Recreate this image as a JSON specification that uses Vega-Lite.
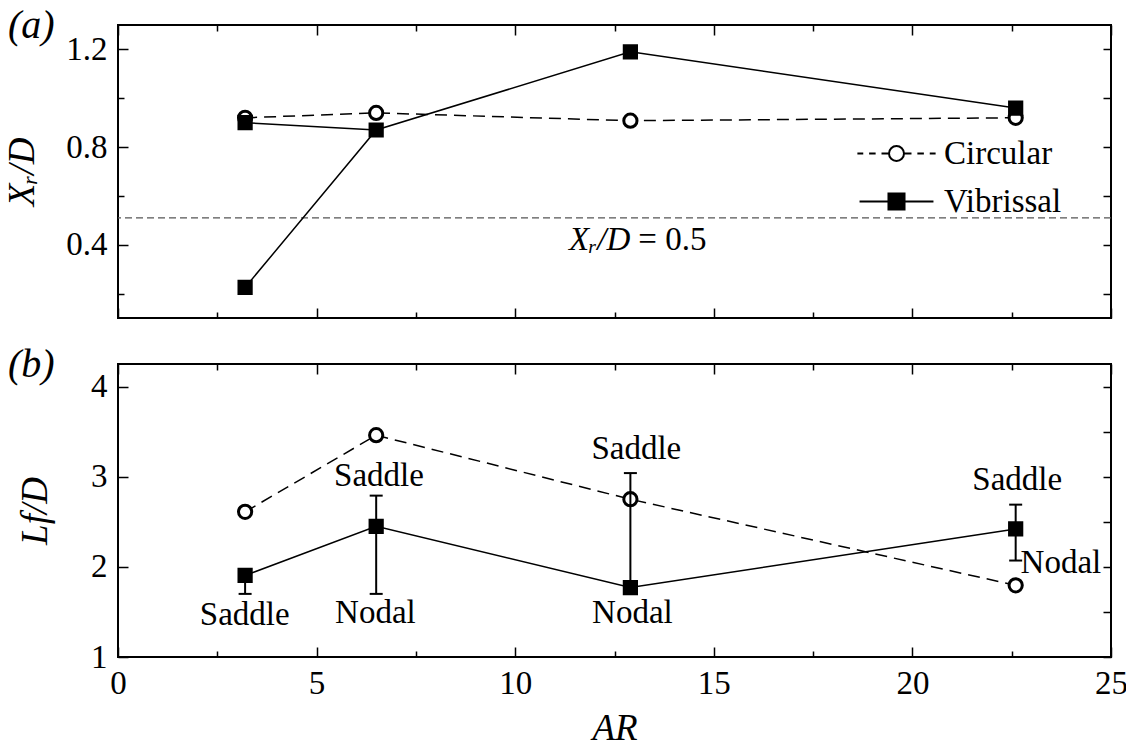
{
  "$schema": "https://vega.github.io/schema/vega-lite/v6.json",
  "description": "Recirculation length Xr/D and focus location Lf/D against aspect ratio AR, circular vs vibrissal cylinders",
  "autosize": {"type": "none"},
  "padding": {"left": 118, "top": 25, "right": 1008, "bottom": 729},
  "background": "white",
  "bounds": "flush",
  "spacing": 46,
  "datasets": {
    "xr": [
      {"series": "Circular", "AR": 3.2, "value": 0.92},
      {"series": "Circular", "AR": 6.5, "value": 0.94},
      {"series": "Circular", "AR": 12.9, "value": 0.908},
      {"series": "Circular", "AR": 22.6, "value": 0.92},
      {"series": "Vibrissal", "AR": 3.2, "value": 0.9, "branch": "upper"},
      {"series": "Vibrissal", "AR": 3.2, "value": 0.225, "branch": "lower"},
      {"series": "Vibrissal", "AR": 6.5, "value": 0.87, "branch": "both"},
      {"series": "Vibrissal", "AR": 12.9, "value": 1.19, "branch": "lower"},
      {"series": "Vibrissal", "AR": 22.6, "value": 0.96, "branch": "lower"}
    ],
    "ref": [{"value": 0.51}],
    "refnote": [{"AR": 13.0, "value": 0.379}],
    "lf": [
      {"series": "Circular", "AR": 3.2, "value": 2.61},
      {"series": "Circular", "AR": 6.5, "value": 3.46},
      {"series": "Circular", "AR": 12.9, "value": 2.75},
      {"series": "Circular", "AR": 22.6, "value": 1.795},
      {"series": "Vibrissal", "AR": 3.2, "value": 1.905, "lo": 1.7, "hi": 1.95},
      {"series": "Vibrissal", "AR": 6.5, "value": 2.45, "lo": 1.7, "hi": 2.79},
      {"series": "Vibrissal", "AR": 12.9, "value": 1.77, "lo": 1.77, "hi": 3.04},
      {"series": "Vibrissal", "AR": 22.6, "value": 2.42, "lo": 2.07, "hi": 2.69}
    ],
    "notes": [
      {"AR": 3.19, "value": 1.36, "label": "Saddle"},
      {"AR": 6.48, "value": 1.38, "label": "Nodal"},
      {"AR": 6.57, "value": 2.9, "label": "Saddle"},
      {"AR": 13.05, "value": 3.2, "label": "Saddle"},
      {"AR": 12.95, "value": 1.38, "label": "Nodal"},
      {"AR": 22.64, "value": 2.85, "label": "Saddle"},
      {"AR": 23.74, "value": 1.93, "label": "Nodal"}
    ]
  },
  "vconcat": [
    {
      "width": 993,
      "height": 293,
      "title": {"text": "(a)", "dx": -110, "dy": 22, "font": "Liberation Serif", "fontSize": 40,
                "fontStyle": "italic", "fontWeight": "normal", "color": "black",
                "anchor": "start", "frame": "group", "offset": 0},
      "resolve": {"axis": {"x": "independent", "y": "independent"}},
      "layer": [
        {
          "data": {"name": "ref"},
          "mark": {"type": "rule", "color": "#555555", "strokeWidth": 1.2, "strokeDash": [7, 4]},
          "encoding": {
            "y": {"field": "value", "type": "quantitative", "axis": null,
                  "scale": {"domain": [0.1, 1.3], "nice": false, "zero": false}}
          }
        },
        {
          "data": {"name": "refnote"},
          "mark": {"type": "text", "text": "Xᵣ/D", "align": "right", "baseline": "alphabetic", "dx": -4,
                   "font": "Liberation Serif", "fontSize": 33, "fontStyle": "italic", "color": "black"},
          "encoding": {
            "x": {"field": "AR", "type": "quantitative", "axis": null},
            "y": {"field": "value", "type": "quantitative", "axis": null}
          }
        },
        {
          "data": {"name": "refnote"},
          "mark": {"type": "text", "text": "= 0.5", "align": "left", "baseline": "alphabetic", "dx": 4,
                   "font": "Liberation Serif", "fontSize": 33, "color": "black"},
          "encoding": {
            "x": {"field": "AR", "type": "quantitative", "axis": null},
            "y": {"field": "value", "type": "quantitative", "axis": null}
          }
        },
        {
          "data": {"name": "xr"},
          "transform": [{"filter": "datum.series === 'Circular'"}],
          "mark": {"type": "line", "color": "black", "strokeWidth": 1.5, "strokeDash": [12, 7]},
          "encoding": {
            "x": {"field": "AR", "type": "quantitative",
                  "scale": {"domain": [0, 25], "nice": false},
                  "axis": {"orient": "bottom", "values": [0, 2.5, 5, 7.5, 10, 12.5, 15, 17.5, 20, 22.5, 25],
                           "labels": false, "title": null,
                           "tickSize": {"condition": {"test": "datum.value % 5 === 0", "value": -10}, "value": -6}}},
            "y": {"field": "value", "type": "quantitative",
                  "axis": {"orient": "left", "values": [0.2, 0.4, 0.6, 0.8, 1.0, 1.2], "format": ".1f",
                           "labelExpr": "round(datum.value * 10) % 4 === 0 ? datum.label : ''",
                           "tickSize": {"condition": {"test": "round(datum.value * 10) % 4 === 0", "value": -10}, "value": -6},
                           "labelPadding": 21, "title": "Xᵣ/D", "titlePadding": 24}}
          }
        },
        {
          "data": {"name": "xr"},
          "transform": [{"filter": "datum.series === 'Vibrissal' && datum.branch !== 'upper'"}],
          "mark": {"type": "line", "color": "black", "strokeWidth": 1.5},
          "encoding": {
            "x": {"field": "AR", "type": "quantitative",
                  "axis": {"orient": "top", "values": [0, 2.5, 5, 7.5, 10, 12.5, 15, 17.5, 20, 22.5, 25],
                           "labels": false, "title": null,
                           "tickSize": {"condition": {"test": "datum.value % 5 === 0", "value": -10}, "value": -6}}},
            "y": {"field": "value", "type": "quantitative",
                  "axis": {"orient": "right", "values": [0.2, 0.4, 0.6, 0.8, 1.0, 1.2],
                           "labels": false, "title": null, "tickSize": -8}}
          }
        },
        {
          "data": {"name": "xr"},
          "transform": [{"filter": "datum.series === 'Vibrissal' && datum.branch !== 'lower'"}],
          "mark": {"type": "line", "color": "black", "strokeWidth": 1.5},
          "encoding": {
            "x": {"field": "AR", "type": "quantitative", "axis": null},
            "y": {"field": "value", "type": "quantitative", "axis": null}
          }
        },
        {
          "data": {"name": "xr"},
          "transform": [{"filter": "datum.series === 'Circular'"}],
          "mark": {"type": "point", "shape": "circle", "size": 175, "fill": "white", "filled": true,
                   "stroke": "black", "strokeWidth": 3},
          "encoding": {
            "x": {"field": "AR", "type": "quantitative", "axis": null},
            "y": {"field": "value", "type": "quantitative", "axis": null},
            "opacity": {"field": "series", "type": "nominal",
                        "scale": {"domain": ["Circular", "Vibrissal"], "range": [1, 1]},
                        "legend": {
                          "orient": "none", "legendX": 762, "legendY": 112, "title": null, "padding": 0,
                          "labelFont": "Liberation Serif", "labelFontSize": 33, "labelColor": "black",
                          "labelOffset": 31, "rowPadding": 14, "symbolSize": 170,
                          "encoding": {
                            "symbols": {
                              "shape": {"value": {"expr": "datum.value === 'Circular' ? 'M-6,0L-5.1,0M-4.2,0L-3.2,0M-2.3,0L-1.15,0M1.15,0A1.15,1.15 0 1,1 -1.15,0A1.15,1.15 0 1,1 1.15,0ZM1.15,0L2.3,0M3.2,0L4.2,0M5.1,0L6,0' : 'M-5.67,0L5.67,0M-1.23,-1.23L1.23,-1.23L1.23,1.23L-1.23,1.23Z'"}},
                              "fill": {"value": {"expr": "datum.value === 'Circular' ? 'white' : 'black'"}},
                              "stroke": {"value": "black"},
                              "strokeWidth": {"value": 2},
                              "size": {"value": 170}
                            }
                          }
                        }}
          }
        },
        {
          "data": {"name": "xr"},
          "transform": [{"filter": "datum.series === 'Vibrissal'"}],
          "mark": {"type": "point", "shape": "square", "size": 175, "fill": "black", "filled": true,
                   "stroke": "black", "strokeWidth": 2},
          "encoding": {
            "x": {"field": "AR", "type": "quantitative", "axis": null},
            "y": {"field": "value", "type": "quantitative", "axis": null},
            "opacity": {"field": "series", "type": "nominal", "legend": null,
                        "scale": {"domain": ["Circular", "Vibrissal"], "range": [1, 1]}}
          }
        }
      ]
    },
    {
      "width": 993,
      "height": 293,
      "title": {"text": "(b)", "dx": -110, "dy": 22, "font": "Liberation Serif", "fontSize": 40,
                "fontStyle": "italic", "fontWeight": "normal", "color": "black",
                "anchor": "start", "frame": "group", "offset": 0},
      "resolve": {"axis": {"x": "independent", "y": "independent"}},
      "layer": [
        {
          "data": {"name": "lf"},
          "transform": [{"filter": "datum.series === 'Circular'"}],
          "mark": {"type": "line", "color": "black", "strokeWidth": 1.5, "strokeDash": [12, 7]},
          "encoding": {
            "x": {"field": "AR", "type": "quantitative",
                  "scale": {"domain": [0, 25], "nice": false},
                  "axis": {"orient": "bottom", "values": [0, 2.5, 5, 7.5, 10, 12.5, 15, 17.5, 20, 22.5, 25],
                           "format": "d", "labelExpr": "datum.value % 5 === 0 ? datum.label : ''",
                           "tickSize": {"condition": {"test": "datum.value % 5 === 0", "value": -10}, "value": -6},
                           "labelPadding": 20, "title": "AR", "titlePadding": 6}},
            "y": {"field": "value", "type": "quantitative",
                  "scale": {"domain": [1, 4.25], "nice": false, "zero": false},
                  "axis": {"orient": "left", "values": [1, 1.5, 2, 2.5, 3, 3.5, 4], "format": "d",
                           "labelExpr": "datum.value % 1 === 0 ? datum.label : ''",
                           "tickSize": {"condition": {"test": "datum.value % 1 === 0", "value": -10}, "value": -6},
                           "labelPadding": 21, "title": "Lf/D", "titlePadding": 36}}
          }
        },
        {
          "data": {"name": "lf"},
          "transform": [{"filter": "datum.series === 'Vibrissal'"}],
          "mark": {"type": "line", "color": "black", "strokeWidth": 1.5},
          "encoding": {
            "x": {"field": "AR", "type": "quantitative",
                  "axis": {"orient": "top", "values": [0, 2.5, 5, 7.5, 10, 12.5, 15, 17.5, 20, 22.5, 25],
                           "labels": false, "title": null,
                           "tickSize": {"condition": {"test": "datum.value % 5 === 0", "value": -10}, "value": -6}}},
            "y": {"field": "value", "type": "quantitative",
                  "axis": {"orient": "right", "values": [1, 1.5, 2, 2.5, 3, 3.5, 4],
                           "labels": false, "title": null, "tickSize": -8}}
          }
        },
        {
          "data": {"name": "lf"},
          "transform": [{"filter": "datum.series === 'Circular'"}],
          "mark": {"type": "point", "shape": "circle", "size": 175, "fill": "white", "filled": true,
                   "stroke": "black", "strokeWidth": 3, "opacity": 1},
          "encoding": {
            "x": {"field": "AR", "type": "quantitative", "axis": null},
            "y": {"field": "value", "type": "quantitative", "axis": null}
          }
        },
        {
          "data": {"name": "lf"},
          "transform": [{"filter": "datum.series === 'Vibrissal'"}],
          "mark": {"type": "point", "shape": "square", "size": 175, "fill": "black", "filled": true,
                   "stroke": "black", "strokeWidth": 2, "opacity": 1},
          "encoding": {
            "x": {"field": "AR", "type": "quantitative", "axis": null},
            "y": {"field": "value", "type": "quantitative", "axis": null}
          }
        },
        {
          "data": {"name": "lf"},
          "transform": [{"filter": "isValid(datum.lo)"}],
          "mark": {"type": "rule", "color": "black", "strokeWidth": 2},
          "encoding": {
            "x": {"field": "AR", "type": "quantitative", "axis": null},
            "y": {"field": "lo", "type": "quantitative", "axis": null},
            "y2": {"field": "hi"}
          }
        },
        {
          "data": {"name": "lf"},
          "transform": [{"filter": "isValid(datum.lo)"}],
          "mark": {"type": "tick", "orient": "horizontal", "color": "black", "size": 13, "thickness": 2, "opacity": 1},
          "encoding": {
            "x": {"field": "AR", "type": "quantitative", "axis": null},
            "y": {"field": "lo", "type": "quantitative", "axis": null}
          }
        },
        {
          "data": {"name": "lf"},
          "transform": [{"filter": "isValid(datum.hi)"}],
          "mark": {"type": "tick", "orient": "horizontal", "color": "black", "size": 13, "thickness": 2, "opacity": 1},
          "encoding": {
            "x": {"field": "AR", "type": "quantitative", "axis": null},
            "y": {"field": "hi", "type": "quantitative", "axis": null}
          }
        },
        {
          "data": {"name": "notes"},
          "mark": {"type": "text", "align": "center", "baseline": "alphabetic",
                   "font": "Liberation Serif", "fontSize": 33, "color": "black"},
          "encoding": {
            "x": {"field": "AR", "type": "quantitative", "axis": null},
            "y": {"field": "value", "type": "quantitative", "axis": null},
            "text": {"field": "label"}
          }
        }
      ]
    }
  ],
  "config": {
    "font": "Liberation Serif",
    "view": {"stroke": "black", "strokeWidth": 2},
    "axis": {
      "grid": false, "domain": false,
      "labelFont": "Liberation Serif", "labelFontSize": 33, "labelColor": "black",
      "labelFlush": false, "labelOverlap": false,
      "tickColor": "black", "tickWidth": 1.5,
      "titleFont": "Liberation Serif", "titleFontSize": 37, "titleFontStyle": "italic",
      "titleFontWeight": "normal", "titleColor": "black"
    },
    "title": {
      "font": "Liberation Serif", "fontSize": 40, "fontStyle": "italic", "fontWeight": "normal",
      "color": "black", "anchor": "start", "frame": "group", "offset": 0
    }
  }
}
